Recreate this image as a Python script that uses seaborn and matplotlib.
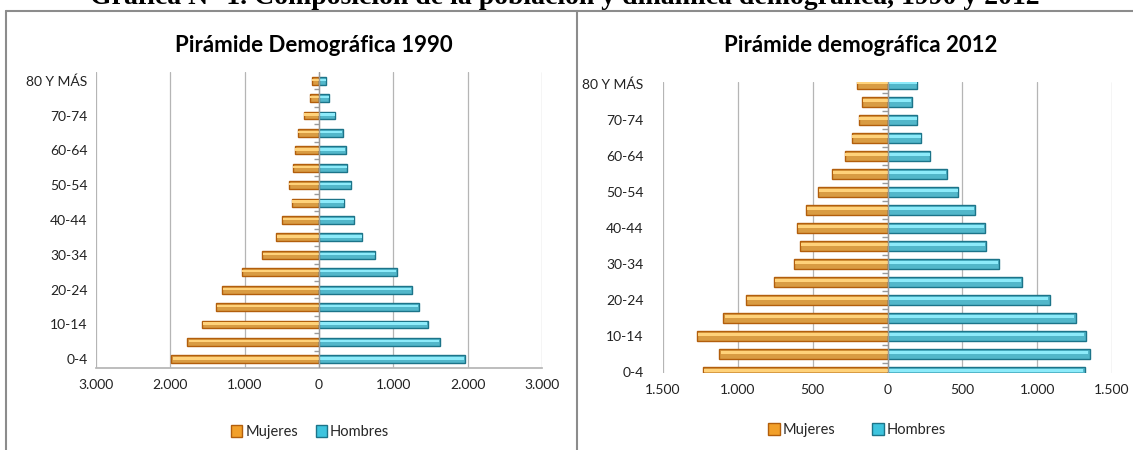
import numpy as np
import pandas as pd
import matplotlib.pyplot as plt
import seaborn as sns
from matplotlib.patches import Patch
from matplotlib.lines import Line2D

# Datos
grupos = ['0-4', '5-9', '10-14', '15-19', '20-24', '25-29', '30-34', '35-39', '40-44',
          '45-49', '50-54', '55-59', '60-64', '65-69', '70-74', '75-79', '80 Y MÁS']
mujeres_1990 = [1985, 1770, 1580, 1380, 1300, 1040, 765, 577, 495,
                365, 410, 350, 327, 284, 207, 125, 100]
hombres_1990 = [1966, 1630, 1470, 1340, 1245, 1043, 760, 580, 476,
                340, 430, 375, 360, 317, 220, 140, 100]
mujeres_2012 = [1236, 1127, 1276, 1100, 945, 760, 627, 587, 606,
                546, 464, 368, 286, 238, 192, 168, 204]
hombres_2012 = [1320, 1356, 1325, 1260, 1084, 900, 748, 661, 649,
                587, 474, 397, 286, 226, 200, 161, 200]
ticks_1990 = [-3000, -2000, -1000, 0, 1000, 2000, 3000]
ticks_2012 = [-1500, -1000, -500, 0, 500, 1000, 1500]

orden = grupos[::-1]

sns.set_theme(style='white')
plt.rcParams['font.family'] = ['Lato', 'DejaVu Sans']

W, H = 1133, 450
fig = plt.figure(figsize=(W / 100, H / 100), dpi=100)

col_m, borde_m, luz_m = '#F2A02A', '#B25E0C', '#FFD27A'
col_h, borde_h, luz_h = '#3EC4DE', '#1C7489', '#8DEBFA'


def fmt(v):
    return f"{abs(int(v)):,}".replace(',', '.')


def piramide(rect, muj, hom, ticks, alto, ylim, titulo, tx, eje_inf, pad_y):
    l, t, r, b = rect
    ax = fig.add_axes([l / W, 1 - b / H, (r - l) / W, (b - t) / H])
    df = pd.DataFrame({'grupo': grupos, 'Mujeres': -np.array(muj), 'Hombres': np.array(hom)})
    sns.barplot(data=df, x='Mujeres', y='grupo', order=orden, color=col_m,
                edgecolor=borde_m, linewidth=1, width=alto, ax=ax, zorder=3)
    sns.barplot(data=df, x='Hombres', y='grupo', order=orden, color=col_h,
                edgecolor=borde_h, linewidth=1, width=alto, ax=ax, zorder=3)
    # brillo para simular el efecto 3D
    pos = np.arange(len(orden))
    dfo = df.set_index('grupo').loc[orden]
    ax.barh(pos - alto * 0.12, dfo['Mujeres'] * 0.99, height=alto * 0.3,
            color=luz_m, linewidth=0, zorder=4)
    ax.barh(pos - alto * 0.12, dfo['Hombres'] * 0.99, height=alto * 0.3,
            color=luz_h, linewidth=0, zorder=4)

    ax.set_xlim(ticks[0], ticks[-1])
    ax.set_ylim(*ylim)
    ax.set_xticks(ticks)
    ax.set_xticklabels([fmt(v) for v in ticks], fontsize=10, color='#222222')
    ax.set_yticks(pos[::2])
    ax.set_yticklabels(orden[::2], fontsize=10, color='#222222')
    ax.tick_params(axis='both', length=0, pad=8)
    ax.tick_params(axis='y', pad=pad_y)
    ax.set_xlabel('')
    ax.set_ylabel('')
    ax.grid(axis='x', color='#b5b5b5', linewidth=0.9, zorder=0)
    for s in ['top', 'left', 'right', 'bottom']:
        ax.spines[s].set_visible(False)
    if eje_inf:
        ax.spines['bottom'].set_visible(True)
        ax.spines['bottom'].set_color('#b5b5b5')
    ax.axvline(0, color='#9a9a9a', linewidth=1, zorder=5)
    marca = (ticks[-1] - ticks[0]) * 0.012
    ax.hlines(pos[:-1] + 0.5, -marca, 0, color='#9a9a9a', linewidth=1, zorder=5)
    fig.text(tx / W, 1 - 46 / H, titulo, ha='center', va='center',
             fontsize=16, fontweight='bold', color='black')
    return ax


piramide((96, 72, 542, 368), mujeres_1990, hombres_1990, ticks_1990, 0.45,
         (16.5, -0.5), 'Pirámide Demográfica 1990', 314, True, 6)
piramide((663, 82, 1112, 373), mujeres_2012, hombres_2012, ticks_2012, 0.55,
         (16.06, -0.11), 'Pirámide demográfica 2012', 861, False, 14)

handles = [Patch(facecolor=col_m, edgecolor=borde_m, label='Mujeres'),
           Patch(facecolor=col_h, edgecolor=borde_h, label='Hombres')]
fig.legend(handles=handles, loc='center', bbox_to_anchor=(310 / W, 1 - 432 / H),
           ncol=2, frameon=False, fontsize=10.5, handlelength=0.8, handleheight=0.8,
           handletextpad=0.2, columnspacing=1.2)
fig.legend(handles=handles, loc='center', bbox_to_anchor=(857 / W, 1 - 430 / H),
           ncol=2, frameon=False, fontsize=10.5, handlelength=0.8, handleheight=0.8,
           handletextpad=0.2, columnspacing=2.5)

# marcos de los paneles
gris = '#8c8c8c'
fig.add_artist(Line2D([6 / W, 1], [1 - 11 / H, 1 - 11 / H], color=gris, linewidth=1.5))
fig.add_artist(Line2D([6 / W, 6 / W], [0, 1 - 11 / H], color=gris, linewidth=1.5))
fig.add_artist(Line2D([577 / W, 577 / W], [0, 1 - 11 / H], color=gris, linewidth=1.5))

# título general recortado en el borde superior (como en la imagen original)
fig.text(565 / W, 1 - 4 / H,
         'Gráfica N° 1. Composición de la población y dinámica demográfica, 1990 y 2012',
         ha='center', va='baseline', fontsize=20, fontweight='bold',
         family=['Liberation Serif', 'DejaVu Serif'], color='black')

fig.savefig('out.png', dpi=100)
